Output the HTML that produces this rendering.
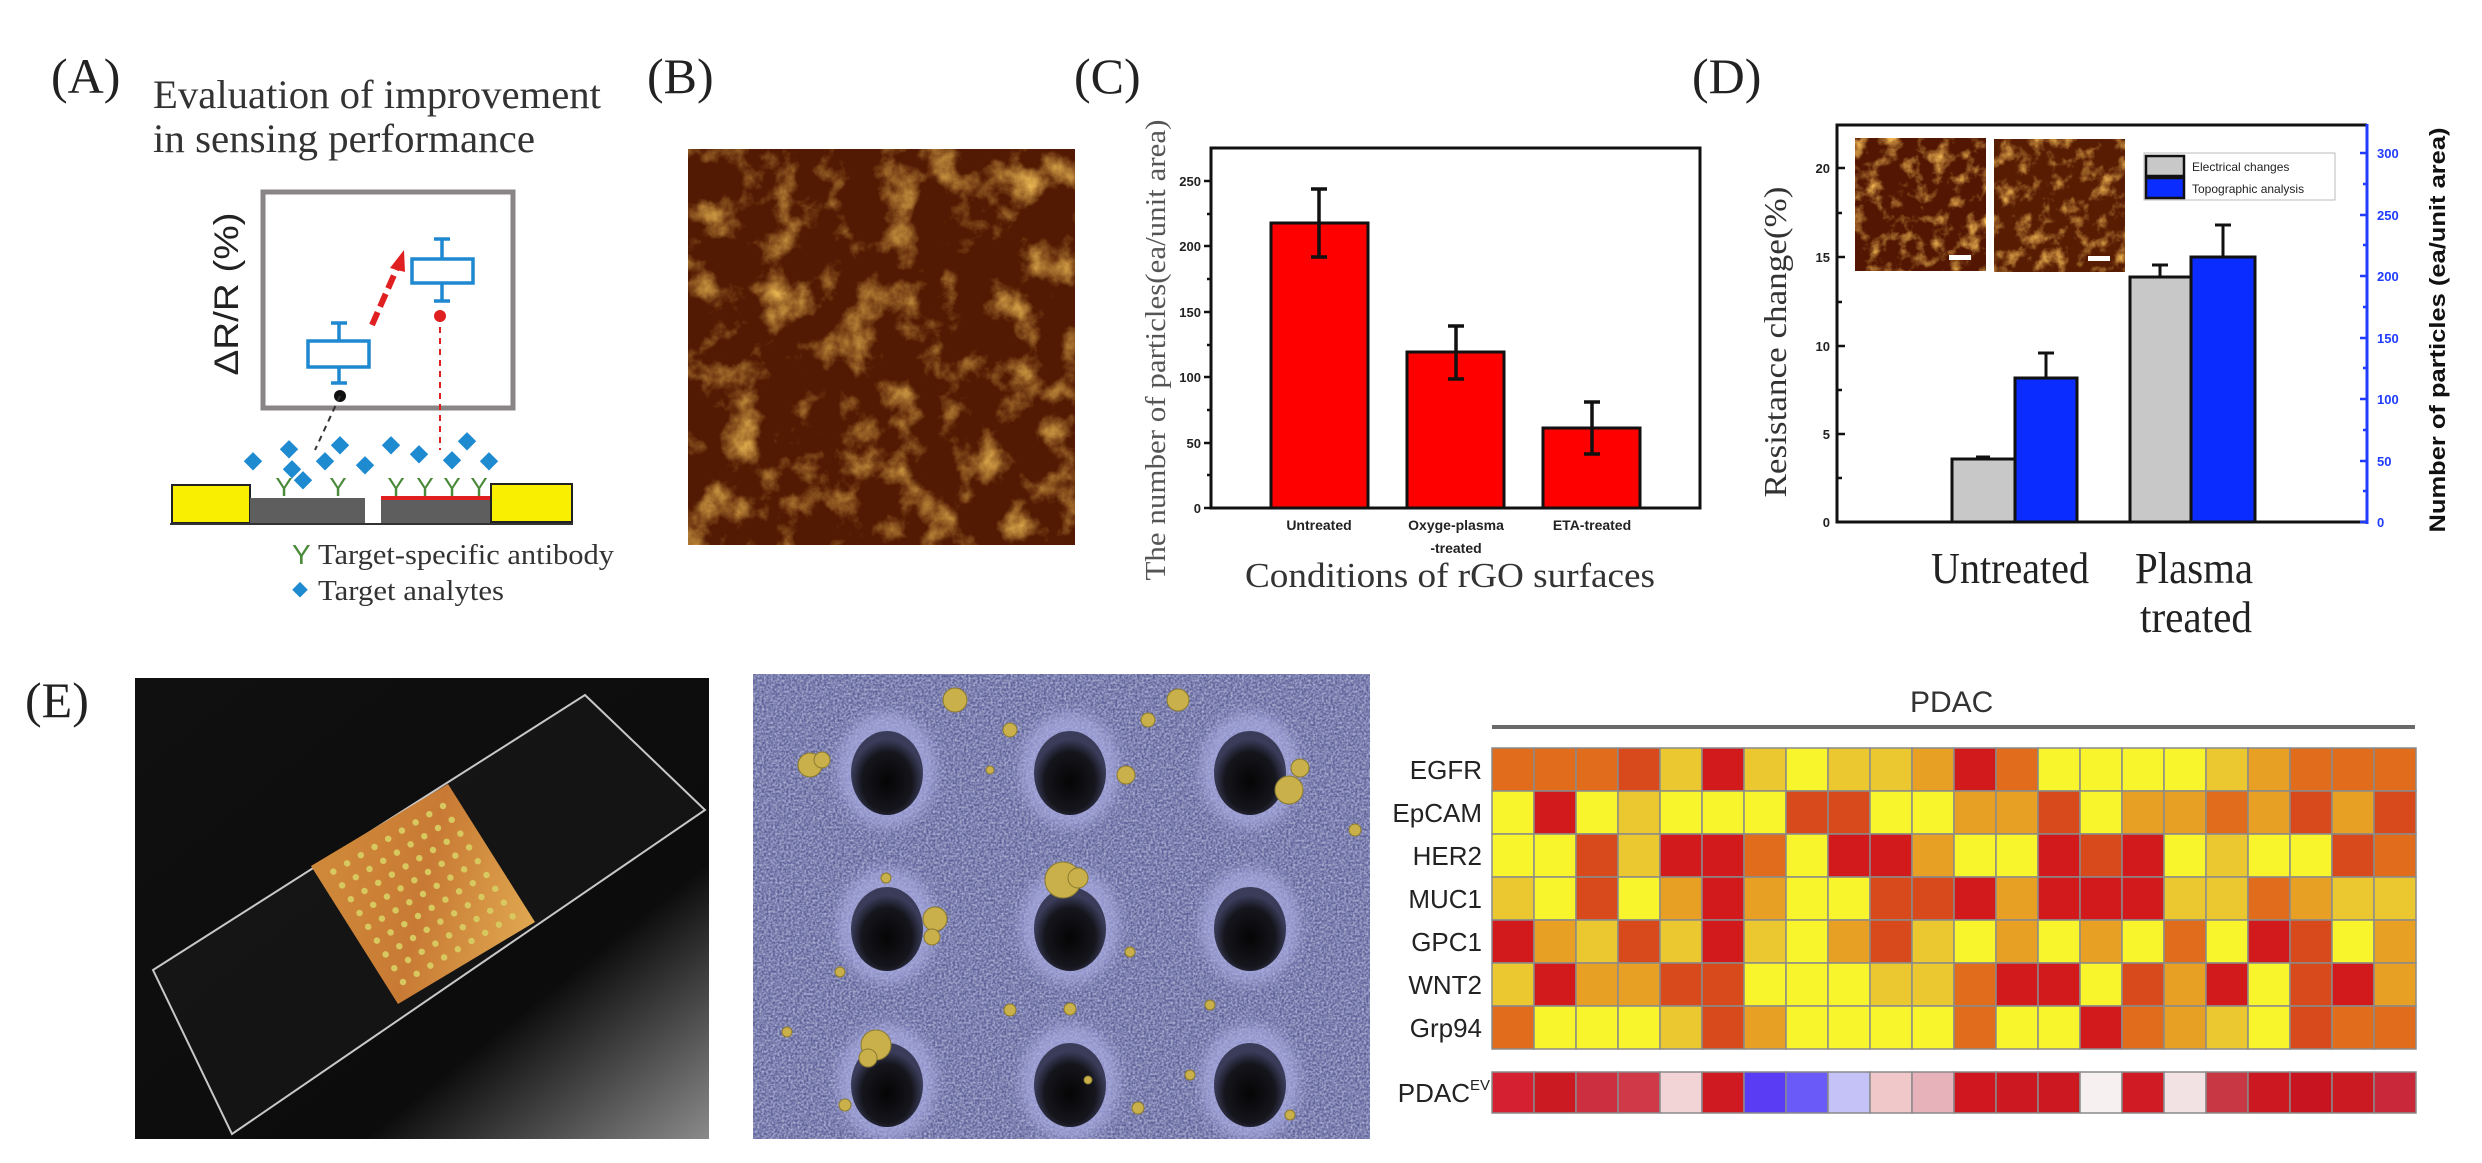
<!DOCTYPE html>
<html><head><meta charset="utf-8">
<style>
html,body{margin:0;padding:0;background:#fff;}
svg{display:block;}
.Y{fill:#f8f52c}.y{fill:#ecc830}.O{fill:#e8a024}.o{fill:#e06c1c}.R{fill:#d84a1c}.D{fill:#d21a1c}
.serif{font-family:"Liberation Serif",serif;}
.sans{font-family:"Liberation Sans",sans-serif;}
</style></head>
<body>
<svg width="2482" height="1163" viewBox="0 0 2482 1163" xmlns="http://www.w3.org/2000/svg">
<defs>
<filter id="afm" x="0" y="0" width="100%" height="100%">
 <feTurbulence type="fractalNoise" baseFrequency="0.025" numOctaves="5" seed="4"/>
 <feColorMatrix type="matrix" values="0 0 0 0 0.8  0 0 0 0 0.45  0 0 0 0 0.08  2.6 0 0 0 -1.3"/>
</filter>
<filter id="afm2" x="0" y="0" width="100%" height="100%">
 <feTurbulence type="fractalNoise" baseFrequency="0.06" numOctaves="4" seed="9"/>
 <feColorMatrix type="matrix" values="0 0 0 0 0.85  0 0 0 0 0.45  0 0 0 0 0.08  2.6 0 0 0 -1.25"/>
</filter>
<filter id="sem" x="0" y="0" width="100%" height="100%">
 <feTurbulence type="fractalNoise" baseFrequency="0.45" numOctaves="2" seed="2"/>
 <feColorMatrix type="matrix" values="0 0 0 0 0.75  0 0 0 0 0.77  0 0 0 0 0.95  1.2 0 0 0 -0.35"/>
</filter>
<filter id="blur3"><feGaussianBlur stdDeviation="6"/></filter>
<radialGradient id="hole" cx="50%" cy="60%" r="50%">
 <stop offset="0" stop-color="#050505"/><stop offset="0.7" stop-color="#15151c"/><stop offset="1" stop-color="#3a3c5a"/>
</radialGradient>
<linearGradient id="chip" x1="0" y1="0" x2="1" y2="1">
 <stop offset="0" stop-color="#d08a3a"/><stop offset="0.5" stop-color="#c87a34"/><stop offset="1" stop-color="#e0a850"/>
</linearGradient>
<linearGradient id="photo" x1="0" y1="0" x2="1" y2="1">
 <stop offset="0" stop-color="#101010"/><stop offset="0.7" stop-color="#0c0c0c"/><stop offset="1" stop-color="#8a8a8a"/>
</linearGradient>
</defs>

<!-- ===== Panel A ===== -->
<text x="51" y="93" class="serif" font-size="50" fill="#222">(A)</text>
<text x="153" y="108" class="serif" font-size="40" fill="#333" textLength="448" lengthAdjust="spacingAndGlyphs">Evaluation of improvement</text>
<text x="153" y="152" class="serif" font-size="40" fill="#333" textLength="382" lengthAdjust="spacingAndGlyphs">in sensing performance</text>
<rect x="263" y="192" width="250" height="216" fill="#fff" stroke="#8a8585" stroke-width="5"/>
<text transform="translate(238,294) rotate(-90)" text-anchor="middle" class="sans" font-size="34" fill="#222" textLength="163" lengthAdjust="spacingAndGlyphs">ΔR/R (%)</text>
<g stroke="#1e88d0" stroke-width="3.5" fill="#fff">
 <line x1="339" y1="323" x2="339" y2="383"/><line x1="331" y1="323" x2="347" y2="323"/><line x1="331" y1="383" x2="347" y2="383"/>
 <rect x="308" y="341" width="61" height="26"/>
 <line x1="442" y1="239" x2="442" y2="301"/><line x1="434" y1="239" x2="450" y2="239"/><line x1="434" y1="301" x2="450" y2="301"/>
 <rect x="412" y="259" width="61" height="24"/>
</g>
<line x1="372" y1="325" x2="398" y2="266" stroke="#e02020" stroke-width="6" stroke-dasharray="14 6"/>
<polygon points="404,250 390,268 405,272" fill="#e02020"/>
<circle cx="340" cy="396" r="6" fill="#111"/>
<line x1="340" y1="396" x2="315" y2="450" stroke="#333" stroke-width="2" stroke-dasharray="6 5"/>
<circle cx="440" cy="316" r="6" fill="#e02020"/>
<line x1="440" y1="316" x2="440" y2="450" stroke="#e02020" stroke-width="2" stroke-dasharray="6 5"/>
<g fill="#1e8ad0">
 <rect x="246" y="455" width="13" height="13" transform="rotate(45 253 462)"/>
 <rect x="282" y="443" width="13" height="13" transform="rotate(45 289 450)"/>
 <rect x="285" y="463" width="13" height="13" transform="rotate(45 292 470)"/>
 <rect x="318" y="455" width="13" height="13" transform="rotate(45 325 462)"/>
 <rect x="333" y="439" width="13" height="13" transform="rotate(45 340 446)"/>
 <rect x="358" y="459" width="13" height="13" transform="rotate(45 365 466)"/>
 <rect x="384" y="439" width="13" height="13" transform="rotate(45 391 446)"/>
 <rect x="412" y="448" width="13" height="13" transform="rotate(45 419 455)"/>
 <rect x="445" y="454" width="13" height="13" transform="rotate(45 452 461)"/>
 <rect x="460" y="435" width="13" height="13" transform="rotate(45 467 442)"/>
 <rect x="482" y="455" width="13" height="13" transform="rotate(45 489 462)"/>
 <rect x="296" y="474" width="13" height="13" transform="rotate(45 303 481)"/>
</g>
<g class="sans" font-size="26" fill="#4a8a3a" text-anchor="middle">
 <text x="284" y="496">Y</text><text x="338" y="496">Y</text><text x="396" y="496">Y</text><text x="425" y="496">Y</text><text x="452" y="496">Y</text><text x="479" y="496">Y</text>
</g>
<rect x="172" y="485" width="78" height="38" fill="#f8f000" stroke="#222" stroke-width="2"/>
<rect x="250" y="498" width="115" height="25" fill="#5e5e5e"/>
<rect x="381" y="498" width="110" height="25" fill="#5e5e5e"/>
<rect x="381" y="496" width="110" height="4" fill="#e02020"/>
<rect x="491" y="484" width="81" height="38" fill="#f8f000" stroke="#222" stroke-width="2"/>
<line x1="170" y1="524" x2="573" y2="524" stroke="#333" stroke-width="2"/>
<text x="292" y="564" class="sans" font-size="28" fill="#4a8a3a">Y</text>
<text x="318" y="564" class="serif" font-size="28" fill="#333" textLength="296" lengthAdjust="spacingAndGlyphs">Target-specific antibody</text>
<rect x="295" y="584" width="11" height="11" fill="#1e8ad0" transform="rotate(45 300 589)"/>
<text x="318" y="600" class="serif" font-size="28" fill="#333" textLength="186" lengthAdjust="spacingAndGlyphs">Target analytes</text>

<!-- ===== Panel B ===== -->
<text x="647" y="93" class="serif" font-size="50" fill="#222">(B)</text>
<rect x="688" y="149" width="387" height="396" fill="#521a02"/>
<rect x="688" y="149" width="387" height="396" filter="url(#afm)"/>
<rect x="966" y="568" width="77" height="7" fill="#fff"/>

<!-- ===== Panel C ===== -->
<text x="1074" y="93" class="serif" font-size="50" fill="#222">(C)</text>
<text transform="translate(1165,350) rotate(-90)" text-anchor="middle" class="serif" font-size="29" fill="#555" textLength="461" lengthAdjust="spacingAndGlyphs">The number of particles(ea/unit area)</text>
<rect x="1211" y="148" width="489" height="360" fill="none" stroke="#111" stroke-width="3"/>
<g stroke="#111" stroke-width="2.5">
 <line x1="1204" y1="508" x2="1211" y2="508"/><line x1="1204" y1="443" x2="1211" y2="443"/><line x1="1204" y1="377" x2="1211" y2="377"/><line x1="1204" y1="312" x2="1211" y2="312"/><line x1="1204" y1="246" x2="1211" y2="246"/><line x1="1204" y1="181" x2="1211" y2="181"/>
 <line x1="1207" y1="475" x2="1211" y2="475"/><line x1="1207" y1="410" x2="1211" y2="410"/><line x1="1207" y1="345" x2="1211" y2="345"/><line x1="1207" y1="279" x2="1211" y2="279"/><line x1="1207" y1="214" x2="1211" y2="214"/>
</g>
<g class="sans" font-size="13" font-weight="bold" fill="#222" text-anchor="end">
 <text x="1201" y="513">0</text><text x="1201" y="448">50</text><text x="1201" y="382">100</text><text x="1201" y="317">150</text><text x="1201" y="251">200</text><text x="1201" y="186">250</text>
</g>
<g fill="#ff0000" stroke="#111" stroke-width="3">
 <rect x="1271" y="223" width="97" height="285"/>
 <rect x="1407" y="352" width="97" height="156"/>
 <rect x="1543" y="428" width="97" height="80"/>
</g>
<g stroke="#111" stroke-width="3.5">
 <line x1="1319" y1="189" x2="1319" y2="257"/><line x1="1311" y1="189" x2="1327" y2="189"/><line x1="1311" y1="257" x2="1327" y2="257"/>
 <line x1="1456" y1="326" x2="1456" y2="379"/><line x1="1448" y1="326" x2="1464" y2="326"/><line x1="1448" y1="379" x2="1464" y2="379"/>
 <line x1="1592" y1="402" x2="1592" y2="454"/><line x1="1584" y1="402" x2="1600" y2="402"/><line x1="1584" y1="454" x2="1600" y2="454"/>
</g>
<g class="sans" font-size="14" font-weight="bold" fill="#222" text-anchor="middle">
 <text x="1319" y="530">Untreated</text>
 <text x="1456" y="530">Oxyge-plasma</text>
 <text x="1456" y="553">-treated</text>
 <text x="1592" y="530">ETA-treated</text>
</g>
<text x="1450" y="587" text-anchor="middle" class="serif" font-size="35" fill="#333" textLength="410" lengthAdjust="spacingAndGlyphs">Conditions of rGO surfaces</text>

<!-- ===== Panel D ===== -->
<text x="1692" y="93" class="serif" font-size="50" fill="#222">(D)</text>
<text transform="translate(1786,342) rotate(-90)" text-anchor="middle" class="serif" font-size="32" fill="#333" textLength="311" lengthAdjust="spacingAndGlyphs">Resistance change(%)</text>
<polyline points="2367,125 1837,125 1837,522 2367,522" fill="none" stroke="#111" stroke-width="3"/>
<line x1="2367" y1="124" x2="2367" y2="524" stroke="#1f3cff" stroke-width="3"/>
<g stroke="#111" stroke-width="2.5">
 <line x1="1837" y1="522" x2="1844" y2="522"/><line x1="1837" y1="434" x2="1845" y2="434"/><line x1="1837" y1="346" x2="1845" y2="346"/><line x1="1837" y1="257" x2="1845" y2="257"/><line x1="1837" y1="168" x2="1845" y2="168"/>
 <line x1="1837" y1="478" x2="1842" y2="478"/><line x1="1837" y1="390" x2="1842" y2="390"/><line x1="1837" y1="302" x2="1842" y2="302"/><line x1="1837" y1="213" x2="1842" y2="213"/>
</g>
<g class="sans" font-size="13" font-weight="bold" fill="#222" text-anchor="end">
 <text x="1830" y="527">0</text><text x="1830" y="439">5</text><text x="1830" y="351">10</text><text x="1830" y="262">15</text><text x="1830" y="173">20</text>
</g>
<g stroke="#1f3cff" stroke-width="2.5">
 <line x1="2360" y1="522" x2="2367" y2="522"/><line x1="2360" y1="461" x2="2367" y2="461"/><line x1="2360" y1="399" x2="2367" y2="399"/><line x1="2360" y1="338" x2="2367" y2="338"/><line x1="2360" y1="276" x2="2367" y2="276"/><line x1="2360" y1="215" x2="2367" y2="215"/><line x1="2360" y1="153" x2="2367" y2="153"/>
 <line x1="2363" y1="491" x2="2367" y2="491"/><line x1="2363" y1="430" x2="2367" y2="430"/><line x1="2363" y1="368" x2="2367" y2="368"/><line x1="2363" y1="307" x2="2367" y2="307"/><line x1="2363" y1="245" x2="2367" y2="245"/><line x1="2363" y1="184" x2="2367" y2="184"/>
</g>
<g class="sans" font-size="13" font-weight="bold" fill="#1f3cff">
 <text x="2377" y="527">0</text><text x="2377" y="466">50</text><text x="2377" y="404">100</text><text x="2377" y="343">150</text><text x="2377" y="281">200</text><text x="2377" y="220">250</text><text x="2377" y="158">300</text>
</g>
<text transform="translate(2445,330) rotate(-90)" text-anchor="middle" class="sans" font-size="22" font-weight="bold" fill="#111" textLength="405" lengthAdjust="spacingAndGlyphs">Number of particles (ea/unit area)</text>
<!-- insets -->
<rect x="1855" y="138" width="131" height="133" fill="#521602"/>
<rect x="1855" y="138" width="131" height="133" filter="url(#afm2)"/>
<rect x="1949" y="255" width="22" height="5" fill="#fff"/>
<rect x="1994" y="139" width="131" height="133" fill="#581c03"/>
<rect x="1994" y="139" width="131" height="133" filter="url(#afm2)"/>
<rect x="2088" y="256" width="22" height="5" fill="#fff"/>
<!-- legend -->
<rect x="2144" y="153" width="191" height="47" fill="#fff" stroke="#bbb" stroke-width="1"/>
<rect x="2146" y="156" width="38" height="20" fill="#c8c8c8" stroke="#111" stroke-width="2.5"/>
<rect x="2146" y="178" width="38" height="20" fill="#0a2cff" stroke="#111" stroke-width="2.5"/>
<text x="2192" y="171" class="sans" font-size="12" fill="#222">Electrical changes</text>
<text x="2192" y="193" class="sans" font-size="12" fill="#222">Topographic analysis</text>
<!-- bars -->
<g stroke="#111" stroke-width="3">
 <rect x="1952" y="459" width="63" height="63" fill="#c8c8c8"/>
 <rect x="2015" y="378" width="62" height="144" fill="#0a2cff"/>
 <rect x="2130" y="277" width="61" height="245" fill="#c8c8c8"/>
 <rect x="2191" y="257" width="64" height="265" fill="#0a2cff"/>
 <line x1="1983" y1="457" x2="1983" y2="459"/><line x1="1976" y1="457" x2="1990" y2="457"/>
 <line x1="2046" y1="353" x2="2046" y2="378"/><line x1="2038" y1="353" x2="2054" y2="353"/>
 <line x1="2160" y1="265" x2="2160" y2="277"/><line x1="2152" y1="265" x2="2168" y2="265"/>
 <line x1="2223" y1="225" x2="2223" y2="257"/><line x1="2215" y1="225" x2="2231" y2="225"/>
</g>
<g class="serif" font-size="44" fill="#222">
 <text x="1931" y="583" textLength="158" lengthAdjust="spacingAndGlyphs">Untreated</text>
 <text x="2135" y="583" textLength="118" lengthAdjust="spacingAndGlyphs">Plasma</text>
 <text x="2140" y="632" textLength="112" lengthAdjust="spacingAndGlyphs">treated</text>
</g>

<!-- ===== Panel E ===== -->
<text x="25" y="717" class="serif" font-size="50" fill="#222">(E)</text>
<rect x="135" y="678" width="574" height="461" fill="url(#photo)"/>
<polygon points="585,695 705,810 232,1134 153,970" fill="rgba(255,255,255,0.03)" stroke="#c8c8c8" stroke-width="2"/>
<g transform="matrix(137 -82 87 138 311 866)">
 <rect x="0" y="0" width="1" height="1" fill="url(#chip)"/>
</g>
<g transform="matrix(13.7 -8.2 8.7 13.8 311 866)" fill="#d8c860">
 <circle cx="1" cy="1" r="0.2"/><circle cx="2" cy="1" r="0.2"/><circle cx="3" cy="1" r="0.2"/><circle cx="4" cy="1" r="0.2"/><circle cx="5" cy="1" r="0.2"/><circle cx="6" cy="1" r="0.2"/><circle cx="7" cy="1" r="0.2"/><circle cx="8" cy="1" r="0.2"/><circle cx="9" cy="1" r="0.2"/>
 <circle cx="1" cy="2" r="0.2"/><circle cx="2" cy="2" r="0.2"/><circle cx="3" cy="2" r="0.2"/><circle cx="4" cy="2" r="0.2"/><circle cx="5" cy="2" r="0.2"/><circle cx="6" cy="2" r="0.2"/><circle cx="7" cy="2" r="0.2"/><circle cx="8" cy="2" r="0.2"/><circle cx="9" cy="2" r="0.2"/>
 <circle cx="1" cy="3" r="0.2"/><circle cx="2" cy="3" r="0.2"/><circle cx="3" cy="3" r="0.2"/><circle cx="4" cy="3" r="0.2"/><circle cx="5" cy="3" r="0.2"/><circle cx="6" cy="3" r="0.2"/><circle cx="7" cy="3" r="0.2"/><circle cx="8" cy="3" r="0.2"/><circle cx="9" cy="3" r="0.2"/>
 <circle cx="1" cy="4" r="0.2"/><circle cx="2" cy="4" r="0.2"/><circle cx="3" cy="4" r="0.2"/><circle cx="4" cy="4" r="0.2"/><circle cx="5" cy="4" r="0.2"/><circle cx="6" cy="4" r="0.2"/><circle cx="7" cy="4" r="0.2"/><circle cx="8" cy="4" r="0.2"/><circle cx="9" cy="4" r="0.2"/>
 <circle cx="1" cy="5" r="0.2"/><circle cx="2" cy="5" r="0.2"/><circle cx="3" cy="5" r="0.2"/><circle cx="4" cy="5" r="0.2"/><circle cx="5" cy="5" r="0.2"/><circle cx="6" cy="5" r="0.2"/><circle cx="7" cy="5" r="0.2"/><circle cx="8" cy="5" r="0.2"/><circle cx="9" cy="5" r="0.2"/>
 <circle cx="1" cy="6" r="0.2"/><circle cx="2" cy="6" r="0.2"/><circle cx="3" cy="6" r="0.2"/><circle cx="4" cy="6" r="0.2"/><circle cx="5" cy="6" r="0.2"/><circle cx="6" cy="6" r="0.2"/><circle cx="7" cy="6" r="0.2"/><circle cx="8" cy="6" r="0.2"/><circle cx="9" cy="6" r="0.2"/>
 <circle cx="1" cy="7" r="0.2"/><circle cx="2" cy="7" r="0.2"/><circle cx="3" cy="7" r="0.2"/><circle cx="4" cy="7" r="0.2"/><circle cx="5" cy="7" r="0.2"/><circle cx="6" cy="7" r="0.2"/><circle cx="7" cy="7" r="0.2"/><circle cx="8" cy="7" r="0.2"/><circle cx="9" cy="7" r="0.2"/>
 <circle cx="1" cy="8" r="0.2"/><circle cx="2" cy="8" r="0.2"/><circle cx="3" cy="8" r="0.2"/><circle cx="4" cy="8" r="0.2"/><circle cx="5" cy="8" r="0.2"/><circle cx="6" cy="8" r="0.2"/><circle cx="7" cy="8" r="0.2"/><circle cx="8" cy="8" r="0.2"/><circle cx="9" cy="8" r="0.2"/>
 <circle cx="1" cy="9" r="0.2"/><circle cx="2" cy="9" r="0.2"/><circle cx="3" cy="9" r="0.2"/><circle cx="4" cy="9" r="0.2"/><circle cx="5" cy="9" r="0.2"/><circle cx="6" cy="9" r="0.2"/><circle cx="7" cy="9" r="0.2"/><circle cx="8" cy="9" r="0.2"/><circle cx="9" cy="9" r="0.2"/>
</g>

<!-- SEM -->
<svg x="753" y="674" width="617" height="465" viewBox="753 674 617 465">
<rect x="753" y="674" width="617" height="465" fill="#5d6198"/>
<rect x="753" y="674" width="617" height="465" filter="url(#sem)"/>
<g fill="#a8aae0" opacity="0.7" filter="url(#blur3)">
 <ellipse cx="887" cy="770" rx="50" ry="58"/><ellipse cx="1070" cy="770" rx="50" ry="58"/><ellipse cx="1250" cy="770" rx="50" ry="58"/>
 <ellipse cx="887" cy="926" rx="50" ry="58"/><ellipse cx="1070" cy="926" rx="50" ry="58"/><ellipse cx="1250" cy="926" rx="50" ry="58"/>
 <ellipse cx="887" cy="1082" rx="50" ry="58"/><ellipse cx="1070" cy="1082" rx="50" ry="58"/><ellipse cx="1250" cy="1082" rx="50" ry="58"/>
</g>
<g fill="url(#hole)">
 <ellipse cx="887" cy="773" rx="36" ry="42"/><ellipse cx="1070" cy="773" rx="36" ry="42"/><ellipse cx="1250" cy="773" rx="36" ry="42"/>
 <ellipse cx="887" cy="929" rx="36" ry="42"/><ellipse cx="1070" cy="929" rx="36" ry="42"/><ellipse cx="1250" cy="929" rx="36" ry="42"/>
 <ellipse cx="887" cy="1085" rx="36" ry="42"/><ellipse cx="1070" cy="1085" rx="36" ry="42"/><ellipse cx="1250" cy="1085" rx="36" ry="42"/>
</g>
<g fill="#c9b04a" stroke="#8a7a30" stroke-width="1">
 <circle cx="955" cy="700" r="12"/><circle cx="1178" cy="700" r="11"/><circle cx="810" cy="765" r="12"/><circle cx="822" cy="760" r="8"/>
 <circle cx="1126" cy="775" r="9"/><circle cx="1289" cy="790" r="14"/><circle cx="1300" cy="768" r="9"/><circle cx="1063" cy="880" r="18"/><circle cx="1078" cy="878" r="10"/>
 <circle cx="935" cy="919" r="12"/><circle cx="932" cy="937" r="8"/><circle cx="886" cy="878" r="5"/><circle cx="840" cy="972" r="5"/><circle cx="876" cy="1045" r="15"/><circle cx="868" cy="1058" r="9"/>
 <circle cx="1010" cy="1010" r="6"/><circle cx="1070" cy="1009" r="6"/><circle cx="1088" cy="1080" r="4"/><circle cx="1138" cy="1108" r="6"/><circle cx="1190" cy="1075" r="5"/>
 <circle cx="1210" cy="1005" r="5"/><circle cx="845" cy="1105" r="6"/><circle cx="787" cy="1032" r="5"/><circle cx="1290" cy="1115" r="5"/><circle cx="1010" cy="730" r="7"/><circle cx="1148" cy="720" r="7"/>
 <circle cx="1130" cy="952" r="5"/><circle cx="990" cy="770" r="4"/><circle cx="1355" cy="830" r="6"/>
</g>
</svg>

<!-- Heatmap -->
<text x="1910" y="712" class="sans" font-size="30" fill="#333">PDAC</text>
<rect x="1492" y="725" width="923" height="4" fill="#6a6a6a"/>
<g class="sans" font-size="26" fill="#222" text-anchor="end">
 <text x="1482" y="779">EGFR</text><text x="1482" y="822">EpCAM</text><text x="1482" y="865">HER2</text><text x="1482" y="908">MUC1</text><text x="1482" y="951">GPC1</text><text x="1482" y="994">WNT2</text><text x="1482" y="1037">Grp94</text>
 <text x="1470" y="1102">PDAC</text>
</g>
<text x="1470" y="1090" class="sans" font-size="15" fill="#222">EV</text>
<g stroke="#8a8a8a" stroke-width="1.5">
<rect x="1492" y="748" width="42" height="43" class="o"/><rect x="1534" y="748" width="42" height="43" class="o"/><rect x="1576" y="748" width="42" height="43" class="o"/><rect x="1618" y="748" width="42" height="43" class="R"/><rect x="1660" y="748" width="42" height="43" class="y"/><rect x="1702" y="748" width="42" height="43" class="D"/><rect x="1744" y="748" width="42" height="43" class="y"/><rect x="1786" y="748" width="42" height="43" class="Y"/><rect x="1828" y="748" width="42" height="43" class="y"/><rect x="1870" y="748" width="42" height="43" class="y"/><rect x="1912" y="748" width="42" height="43" class="O"/><rect x="1954" y="748" width="42" height="43" class="D"/><rect x="1996" y="748" width="42" height="43" class="o"/><rect x="2038" y="748" width="42" height="43" class="Y"/><rect x="2080" y="748" width="42" height="43" class="Y"/><rect x="2122" y="748" width="42" height="43" class="Y"/><rect x="2164" y="748" width="42" height="43" class="Y"/><rect x="2206" y="748" width="42" height="43" class="y"/><rect x="2248" y="748" width="42" height="43" class="O"/><rect x="2290" y="748" width="42" height="43" class="o"/><rect x="2332" y="748" width="42" height="43" class="o"/><rect x="2374" y="748" width="42" height="43" class="o"/>
<rect x="1492" y="791" width="42" height="43" class="Y"/><rect x="1534" y="791" width="42" height="43" class="D"/><rect x="1576" y="791" width="42" height="43" class="Y"/><rect x="1618" y="791" width="42" height="43" class="y"/><rect x="1660" y="791" width="42" height="43" class="Y"/><rect x="1702" y="791" width="42" height="43" class="Y"/><rect x="1744" y="791" width="42" height="43" class="Y"/><rect x="1786" y="791" width="42" height="43" class="R"/><rect x="1828" y="791" width="42" height="43" class="R"/><rect x="1870" y="791" width="42" height="43" class="Y"/><rect x="1912" y="791" width="42" height="43" class="Y"/><rect x="1954" y="791" width="42" height="43" class="O"/><rect x="1996" y="791" width="42" height="43" class="O"/><rect x="2038" y="791" width="42" height="43" class="R"/><rect x="2080" y="791" width="42" height="43" class="Y"/><rect x="2122" y="791" width="42" height="43" class="O"/><rect x="2164" y="791" width="42" height="43" class="O"/><rect x="2206" y="791" width="42" height="43" class="o"/><rect x="2248" y="791" width="42" height="43" class="O"/><rect x="2290" y="791" width="42" height="43" class="R"/><rect x="2332" y="791" width="42" height="43" class="O"/><rect x="2374" y="791" width="42" height="43" class="R"/>
<rect x="1492" y="834" width="42" height="43" class="Y"/><rect x="1534" y="834" width="42" height="43" class="Y"/><rect x="1576" y="834" width="42" height="43" class="R"/><rect x="1618" y="834" width="42" height="43" class="y"/><rect x="1660" y="834" width="42" height="43" class="D"/><rect x="1702" y="834" width="42" height="43" class="D"/><rect x="1744" y="834" width="42" height="43" class="o"/><rect x="1786" y="834" width="42" height="43" class="Y"/><rect x="1828" y="834" width="42" height="43" class="D"/><rect x="1870" y="834" width="42" height="43" class="D"/><rect x="1912" y="834" width="42" height="43" class="O"/><rect x="1954" y="834" width="42" height="43" class="Y"/><rect x="1996" y="834" width="42" height="43" class="Y"/><rect x="2038" y="834" width="42" height="43" class="D"/><rect x="2080" y="834" width="42" height="43" class="R"/><rect x="2122" y="834" width="42" height="43" class="D"/><rect x="2164" y="834" width="42" height="43" class="Y"/><rect x="2206" y="834" width="42" height="43" class="y"/><rect x="2248" y="834" width="42" height="43" class="Y"/><rect x="2290" y="834" width="42" height="43" class="Y"/><rect x="2332" y="834" width="42" height="43" class="R"/><rect x="2374" y="834" width="42" height="43" class="o"/>
<rect x="1492" y="877" width="42" height="43" class="y"/><rect x="1534" y="877" width="42" height="43" class="Y"/><rect x="1576" y="877" width="42" height="43" class="R"/><rect x="1618" y="877" width="42" height="43" class="Y"/><rect x="1660" y="877" width="42" height="43" class="O"/><rect x="1702" y="877" width="42" height="43" class="D"/><rect x="1744" y="877" width="42" height="43" class="O"/><rect x="1786" y="877" width="42" height="43" class="Y"/><rect x="1828" y="877" width="42" height="43" class="Y"/><rect x="1870" y="877" width="42" height="43" class="R"/><rect x="1912" y="877" width="42" height="43" class="R"/><rect x="1954" y="877" width="42" height="43" class="D"/><rect x="1996" y="877" width="42" height="43" class="O"/><rect x="2038" y="877" width="42" height="43" class="D"/><rect x="2080" y="877" width="42" height="43" class="D"/><rect x="2122" y="877" width="42" height="43" class="D"/><rect x="2164" y="877" width="42" height="43" class="y"/><rect x="2206" y="877" width="42" height="43" class="y"/><rect x="2248" y="877" width="42" height="43" class="o"/><rect x="2290" y="877" width="42" height="43" class="O"/><rect x="2332" y="877" width="42" height="43" class="y"/><rect x="2374" y="877" width="42" height="43" class="y"/>
<rect x="1492" y="920" width="42" height="43" class="D"/><rect x="1534" y="920" width="42" height="43" class="O"/><rect x="1576" y="920" width="42" height="43" class="y"/><rect x="1618" y="920" width="42" height="43" class="R"/><rect x="1660" y="920" width="42" height="43" class="y"/><rect x="1702" y="920" width="42" height="43" class="D"/><rect x="1744" y="920" width="42" height="43" class="y"/><rect x="1786" y="920" width="42" height="43" class="Y"/><rect x="1828" y="920" width="42" height="43" class="O"/><rect x="1870" y="920" width="42" height="43" class="R"/><rect x="1912" y="920" width="42" height="43" class="y"/><rect x="1954" y="920" width="42" height="43" class="Y"/><rect x="1996" y="920" width="42" height="43" class="O"/><rect x="2038" y="920" width="42" height="43" class="Y"/><rect x="2080" y="920" width="42" height="43" class="O"/><rect x="2122" y="920" width="42" height="43" class="Y"/><rect x="2164" y="920" width="42" height="43" class="o"/><rect x="2206" y="920" width="42" height="43" class="Y"/><rect x="2248" y="920" width="42" height="43" class="D"/><rect x="2290" y="920" width="42" height="43" class="R"/><rect x="2332" y="920" width="42" height="43" class="Y"/><rect x="2374" y="920" width="42" height="43" class="O"/>
<rect x="1492" y="963" width="42" height="43" class="y"/><rect x="1534" y="963" width="42" height="43" class="D"/><rect x="1576" y="963" width="42" height="43" class="O"/><rect x="1618" y="963" width="42" height="43" class="O"/><rect x="1660" y="963" width="42" height="43" class="R"/><rect x="1702" y="963" width="42" height="43" class="R"/><rect x="1744" y="963" width="42" height="43" class="Y"/><rect x="1786" y="963" width="42" height="43" class="Y"/><rect x="1828" y="963" width="42" height="43" class="Y"/><rect x="1870" y="963" width="42" height="43" class="y"/><rect x="1912" y="963" width="42" height="43" class="y"/><rect x="1954" y="963" width="42" height="43" class="o"/><rect x="1996" y="963" width="42" height="43" class="D"/><rect x="2038" y="963" width="42" height="43" class="D"/><rect x="2080" y="963" width="42" height="43" class="Y"/><rect x="2122" y="963" width="42" height="43" class="R"/><rect x="2164" y="963" width="42" height="43" class="O"/><rect x="2206" y="963" width="42" height="43" class="D"/><rect x="2248" y="963" width="42" height="43" class="Y"/><rect x="2290" y="963" width="42" height="43" class="R"/><rect x="2332" y="963" width="42" height="43" class="D"/><rect x="2374" y="963" width="42" height="43" class="O"/>
<rect x="1492" y="1006" width="42" height="43" class="o"/><rect x="1534" y="1006" width="42" height="43" class="Y"/><rect x="1576" y="1006" width="42" height="43" class="Y"/><rect x="1618" y="1006" width="42" height="43" class="Y"/><rect x="1660" y="1006" width="42" height="43" class="y"/><rect x="1702" y="1006" width="42" height="43" class="R"/><rect x="1744" y="1006" width="42" height="43" class="O"/><rect x="1786" y="1006" width="42" height="43" class="Y"/><rect x="1828" y="1006" width="42" height="43" class="Y"/><rect x="1870" y="1006" width="42" height="43" class="Y"/><rect x="1912" y="1006" width="42" height="43" class="Y"/><rect x="1954" y="1006" width="42" height="43" class="o"/><rect x="1996" y="1006" width="42" height="43" class="Y"/><rect x="2038" y="1006" width="42" height="43" class="Y"/><rect x="2080" y="1006" width="42" height="43" class="D"/><rect x="2122" y="1006" width="42" height="43" class="o"/><rect x="2164" y="1006" width="42" height="43" class="O"/><rect x="2206" y="1006" width="42" height="43" class="y"/><rect x="2248" y="1006" width="42" height="43" class="Y"/><rect x="2290" y="1006" width="42" height="43" class="R"/><rect x="2332" y="1006" width="42" height="43" class="o"/><rect x="2374" y="1006" width="42" height="43" class="o"/>
<rect x="1492" y="1072" width="42" height="41" fill="#d42030"/><rect x="1534" y="1072" width="42" height="41" fill="#cc1a22"/><rect x="1576" y="1072" width="42" height="41" fill="#cc3040"/><rect x="1618" y="1072" width="42" height="41" fill="#d03a48"/><rect x="1660" y="1072" width="42" height="41" fill="#f2d4d6"/><rect x="1702" y="1072" width="42" height="41" fill="#d01a22"/><rect x="1744" y="1072" width="42" height="41" fill="#5a3cf4"/><rect x="1786" y="1072" width="42" height="41" fill="#6a5af8"/><rect x="1828" y="1072" width="42" height="41" fill="#c4c2f6"/><rect x="1870" y="1072" width="42" height="41" fill="#f0c8ca"/><rect x="1912" y="1072" width="42" height="41" fill="#e8b2ba"/><rect x="1954" y="1072" width="42" height="41" fill="#d0161e"/><rect x="1996" y="1072" width="42" height="41" fill="#cc1820"/><rect x="2038" y="1072" width="42" height="41" fill="#cc1820"/><rect x="2080" y="1072" width="42" height="41" fill="#f6f0f0"/><rect x="2122" y="1072" width="42" height="41" fill="#d01a24"/><rect x="2164" y="1072" width="42" height="41" fill="#f2e2e4"/><rect x="2206" y="1072" width="42" height="41" fill="#c83844"/><rect x="2248" y="1072" width="42" height="41" fill="#cc1820"/><rect x="2290" y="1072" width="42" height="41" fill="#c81420"/><rect x="2332" y="1072" width="42" height="41" fill="#cc1a22"/><rect x="2374" y="1072" width="42" height="41" fill="#c8283a"/>
</g>
</svg>
</body></html>
